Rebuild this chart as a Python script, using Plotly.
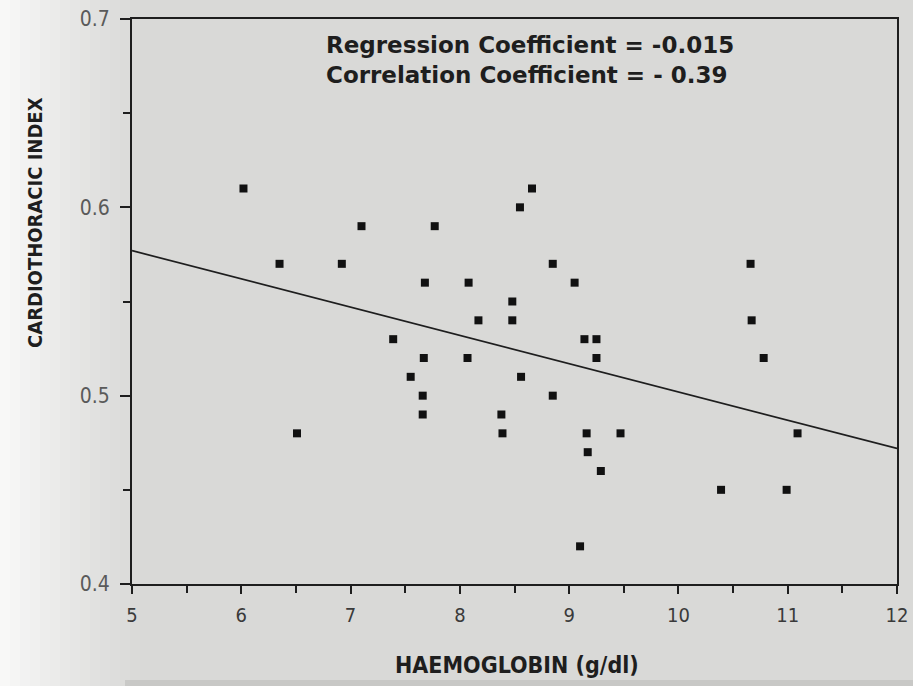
import plotly.graph_objects as go

haemoglobin = [6.02, 6.35, 6.51, 6.92, 7.10, 7.39, 7.55, 7.66, 7.66, 7.67,
               7.68, 7.77, 8.07, 8.08, 8.17, 8.38, 8.39, 8.48, 8.48, 8.55,
               8.56, 8.66, 8.85, 8.85, 9.05, 9.10, 9.14, 9.16, 9.17, 9.25,
               9.25, 9.29, 9.47, 10.39, 10.66, 10.67, 10.78, 10.99, 11.09]
cti = [0.61, 0.57, 0.48, 0.57, 0.59, 0.53, 0.51, 0.50, 0.49, 0.52,
       0.56, 0.59, 0.52, 0.56, 0.54, 0.49, 0.48, 0.55, 0.54, 0.60,
       0.51, 0.61, 0.57, 0.50, 0.56, 0.42, 0.53, 0.48, 0.47, 0.53,
       0.52, 0.46, 0.48, 0.45, 0.57, 0.54, 0.52, 0.45, 0.48]

fit_slope = -0.015
fit_intercept = 0.652
fit_x = [5, 12]
fit_y = [fit_intercept + fit_slope * x for x in fit_x]

x_ticks = [5, 6, 7, 8, 9, 10, 11, 12]
y_ticks = [0.4, 0.5, 0.6, 0.7]
y_tick_labels = ["0.4", "0.5", "0.6", "0.7"]

annotation_lines = ["Regression Coefficient = -0.015",
                    "Correlation Coefficient = - 0.39"]
x_title = "HAEMOGLOBIN (g/dl)"
y_title = "CARDIOTHORACIC INDEX"

bg = "#d9d9d7"
ink = "#1e1e1e"

fig = go.Figure()
fig.add_trace(go.Scatter(x=fit_x, y=fit_y, mode="lines",
                         line=dict(color=ink, width=1.7), showlegend=False,
                         hoverinfo="skip"))
fig.add_trace(go.Scatter(x=haemoglobin, y=cti, mode="markers",
                         marker=dict(symbol="square", size=8, color="#111111"),
                         showlegend=False))

W, H = 913, 686
L, R, T, B = 132, 16, 19, 102
pw = W - L - R
ph = H - T - B
shapes = []
steps = 14
for i in range(steps):
    x0px = i * 10
    x1px = x0px + 10
    op = max(0.0, 0.8 * (1 - i / steps) ** 1.2)
    shapes.append(dict(type="rect", xref="paper", yref="paper",
                       x0=(x0px - L) / pw, x1=(x1px - L) / pw, y0=-1, y1=2,
                       fillcolor="white", opacity=op, line=dict(width=0),
                       layer="below"))
# darker strip at the very bottom of the photo
shapes.append(dict(type="rect", xref="paper", yref="paper",
                   x0=(125 - L) / pw, x1=(W - L) / pw,
                   y0=-(H - T - ph) / ph, y1=-(680 - T - ph) / ph,
                   fillcolor="#bdbdbb", opacity=0.6, line=dict(width=0), layer="below"))

fig.update_layout(
    width=W, height=H,
    margin=dict(l=L, r=R, t=T, b=B, autoexpand=False),
    paper_bgcolor=bg, plot_bgcolor=bg,
    font=dict(family="DejaVu Sans Condensed, DejaVu Sans", color=ink),
    shapes=shapes,
    annotations=[
        dict(text="<br>".join(annotation_lines), xref="paper", yref="paper",
             x=(530 - L) / pw, y=1 - (30 - T) / ph, xanchor="center", yanchor="top", showarrow=False,
             align="left", font=dict(size=23, family="DejaVu Sans", color=ink,
                                     weight="bold")),
        dict(text=y_title, xref="paper", yref="paper", x=(35 - L) / pw,
             y=1 - (223 - T) / ph, xanchor="center", yanchor="middle",
             textangle=-90, showarrow=False,
             font=dict(size=20, family="DejaVu Sans Condensed", color=ink, weight="bold")),
        dict(text="<b>" + x_title + "</b>", xref="paper", yref="paper",
             x=(517 - L) / pw, y=-(665 - T - ph) / ph, xanchor="center", yanchor="middle",
             showarrow=False, font=dict(size=23, family="DejaVu Sans Condensed", color=ink)),
    ],
)
fig.update_xaxes(range=[5, 12], tickvals=x_ticks, ticks="outside", ticklen=8,
                 tickwidth=1.5, tickcolor=ink, showline=True, linecolor=ink,
                 linewidth=2, mirror=True, showgrid=False, zeroline=False,
                 ticklabelstandoff=4, automargin=False,
                 tickfont=dict(size=20, family="Liberation Sans Narrow, DejaVu Sans Condensed", color="#3a3a3a"),
                 minor=dict(dtick=0.5, ticks="outside", ticklen=7, tickcolor=ink, tickwidth=1.5))
fig.update_yaxes(range=[0.4, 0.7], tickvals=y_ticks, ticktext=y_tick_labels,
                 ticks="outside", ticklen=10, tickwidth=1.5, tickcolor=ink,
                 showline=True, linecolor=ink, linewidth=2, mirror=True,
                 showgrid=False, zeroline=False, automargin=False,
                 ticklabelstandoff=6,
                 tickfont=dict(size=21, family="Liberation Sans Narrow, DejaVu Sans Condensed", color="#5a5a5a"),
                 minor=dict(dtick=0.05, ticks="outside", ticklen=7, tickcolor=ink, tickwidth=1.5))

fig.write_html("out.html", config={"displayModeBar": False},
               post_script="document.body.style.margin='0';"
                           "document.body.style.overflow='hidden';"
                           "document.documentElement.style.overflow='hidden';")
